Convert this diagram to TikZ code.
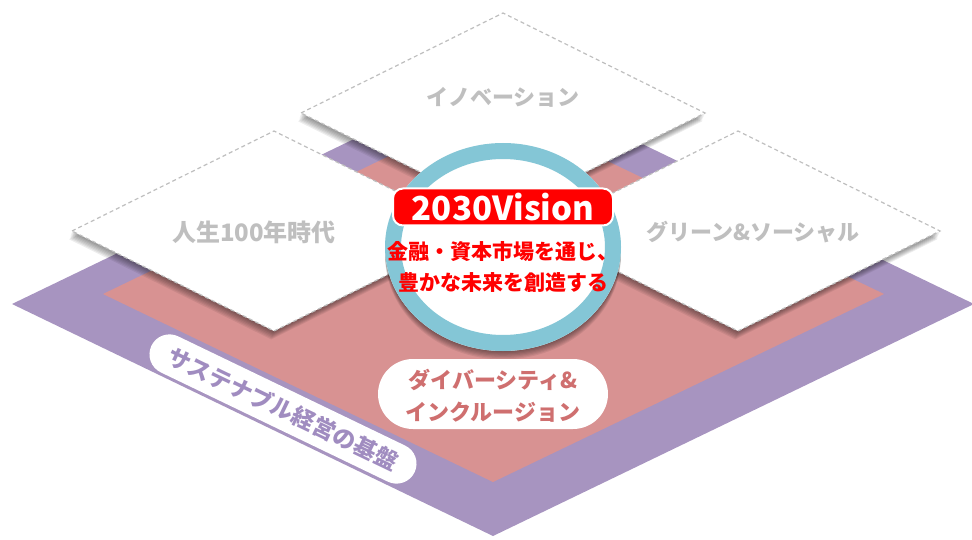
\documentclass[tikz,border=0pt]{standalone}
\usepackage{fontspec}
\newfontfamily\jp{Noto Sans CJK JP}
\definecolor{basepurple}{HTML}{A794C0}
\definecolor{basepink}{HTML}{D89292}
\definecolor{ringblue}{HTML}{84C6D6}
\definecolor{tilegray}{HTML}{BFBFBF}
\definecolor{divtext}{HTML}{CF6F6F}
\definecolor{susttext}{HTML}{A08CC0}
\definecolor{visred}{HTML}{FF0000}
\tikzset{
  tileline/.style={draw=tilegray, dashed, dash pattern=on 4pt off 3pt, line width=1.2pt},
  tiletext/.style={text=tilegray, font=\jp\bfseries\fontsize{22}{26}\selectfont, inner sep=0pt},
  redtext/.style={text=visred, font=\jp\bfseries\fontsize{21}{31}\selectfont, align=center, inner sep=0pt},
  visbox/.style={fill=visred, draw=white, line width=2pt, rounded corners=10pt, minimum width=220pt, minimum height=37pt, text=white, font=\jp\bfseries\fontsize{33}{36}\selectfont, inner sep=0pt},
  pillbox/.style={fill=white, rounded corners=#1, inner sep=0pt},
}
\newcommand{\mytile}[3]{%
  \foreach \k in {1,...,7} {
    \fill[black, opacity=0.07, shift={(-0.4*\k,1.2*\k)}] (#2-202,#3) -- (#2,#3-100) -- (#2+202,#3) -- (#2,#3+100) -- cycle;
  }
  \fill[white] (#2-202,#3) -- (#2,#3-100) -- (#2+202,#3) -- (#2,#3+100) -- cycle;
  \draw[tileline] (#2-202,#3) -- (#2,#3-100) -- (#2+202,#3) -- (#2,#3+100) -- cycle;
  \coordinate (#1) at (#2,#3);
}
\begin{document}
\begin{tikzpicture}[x=1pt,y=-1pt]
\useasboundingbox (0,0) rectangle (972,540);
% base layers
\fill[basepurple] (12,304) -- (493,72) -- (974,304) -- (493,536) -- cycle;
\fill[basepink] (103,294) -- (493,106) -- (884,294) -- (493,482) -- cycle;
% tiles
\mytile{tinno}{503}{113}
\mytile{tlife}{274}{231}
\mytile{tgreen}{738}{231}
\node[tiletext] (innov) at (503,97) {イノベーション};
\node[tiletext, font=\jp\bfseries\fontsize{24}{28}\selectfont] (life) at (254,232) {人生100年時代};
\node[tiletext] (green) at (753,232) {グリーン\&ソーシャル};
% central circle shadow
\foreach \k in {1,...,7} {
  \fill[black, opacity=0.07] (503,{247+1.2*\k}) ellipse [x radius=118, y radius=104];
}
\fill[white] (503,247) ellipse [x radius=118, y radius=104];
\draw[ringblue, line width=16pt] (503,247) ellipse [x radius=110, y radius=96];
% vision
\node[visbox] (vision) at (503,207) {2030Vision};
\node[redtext] (mission) at (503,267) {金融・資本市場を通じ、\\豊かな未来を創造する};
% diversity pill
\node[pillbox=35pt, minimum width=230pt, minimum height=70pt] (divbox) at (493,394) {};
\node[text=divtext, font=\jp\bfseries\fontsize{22}{32}\selectfont, align=center, inner sep=0pt] (divtxt) at (493,396) {ダイバーシティ\&\\インクルージョン};
% sustainability pill
\node[pillbox=20pt, minimum width=292pt, minimum height=40pt, rotate=-25.7] (sustbox) at (283,409) {};
\node[text=susttext, font=\jp\bfseries\fontsize{23}{26}\selectfont, inner sep=0pt, rotate=-25.7] (susttxt) at (283,409) {サステナブル経営の基盤};
\end{tikzpicture}
\end{document}
